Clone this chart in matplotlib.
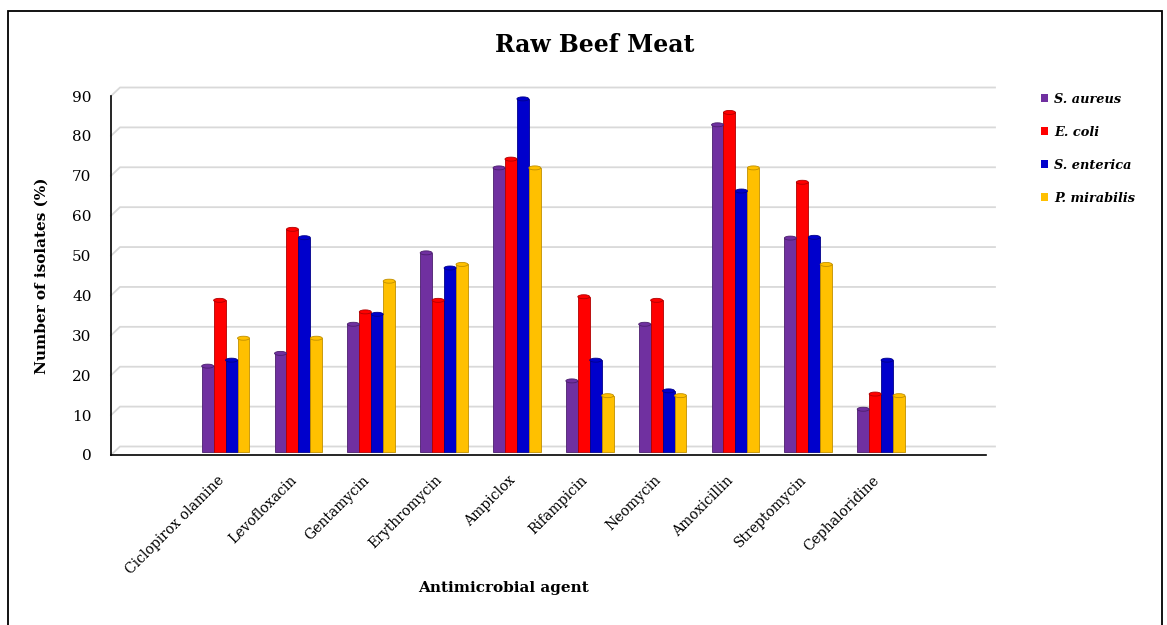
import matplotlib.pyplot as plt
import matplotlib.transforms as mtransforms
from matplotlib.patches import Ellipse, Rectangle, Patch
import numpy as np

# data
agents = ['Ciclopirox olamine', 'Levofloxacin', 'Gentamycin', 'Erythromycin', 'Ampiclox',
          'Rifampicin', 'Neomycin', 'Amoxicillin', 'Streptomycin', 'Cephaloridine']
s_aureus = [21.4, 24.6, 31.9, 49.8, 71.1, 17.7, 31.9, 81.9, 53.5, 10.6]
e_coli = [37.9, 55.7, 35.0, 37.9, 73.3, 38.8, 37.9, 85.0, 67.5, 14.4]
s_enterica = [22.9, 53.6, 34.4, 46.0, 88.4, 22.9, 15.2, 65.3, 53.7, 22.9]
p_mirabilis = [28.4, 28.4, 42.7, 46.9, 71.1, 14.0, 14.0, 71.1, 46.9, 14.0]

series = [('S. aureus', s_aureus, '#7030A0', '#4B1F6E'),
          ('E. coli', e_coli, '#FF0000', '#B00000'),
          ('S. enterica', s_enterica, '#0000CC', '#00008A'),
          ('P. mirabilis', p_mirabilis, '#FFC000', '#C08F00')]

plt.rcParams['font.family'] = 'DejaVu Serif'

W, H = 1167, 625
fig = plt.figure(figsize=(W / 100, H / 100), dpi=100)
ax = fig.add_axes([111 / W, 1 - 455 / H, 875 / W, 359 / H])

ax.set_ylim(0, 90)
ax.set_xlim(-1.573, 10.44)

# back-wall gridlines, pushed up/right a little like the 3D chart
px_per_unit = 359 / 90
dy_units = 8.5 / px_per_unit
dx_ax = 9 / 875
blend = mtransforms.blended_transform_factory(ax.transAxes, ax.transData)
for v in range(0, 91, 10):
    ax.plot([0, dx_ax, 1 + dx_ax], [v, v + dy_units, v + dy_units], color='#d9d9d9',
            lw=1.3, transform=blend, clip_on=False, zorder=0)

# bars sit a bit behind the front axis
bar_tr = ax.transData + mtransforms.ScaledTranslation(0, 3.5 / 100, fig.dpi_scale_trans)
x = np.arange(len(agents))
bw = 0.164
for i, (name, vals, col, dark) in enumerate(series):
    xs = x + (i - 1.5) * bw
    ax.bar(xs, vals, width=bw, color=col, edgecolor=dark, linewidth=0.6,
           transform=bar_tr, zorder=2 + i * 0.01)
    for xi, v in zip(xs, vals):
        ax.add_patch(Ellipse((xi, v), bw, 1.0, facecolor=col, edgecolor=dark,
                             linewidth=0.6, transform=bar_tr, zorder=3))

ax.spines['top'].set_visible(False)
ax.spines['right'].set_visible(False)
ax.spines['left'].set_linewidth(1.2)
ax.spines['bottom'].set_linewidth(1.2)

ax.set_yticks(range(0, 91, 10))
ax.tick_params(axis='y', length=0, pad=14, labelsize=11)
ax.set_xticks(x)
ax.set_xticklabels(agents, rotation=45, ha='right', va='top', rotation_mode='anchor', fontsize=10)
ax.tick_params(axis='x', length=0, pad=13)
shift = mtransforms.ScaledTranslation(-9 / 100, 0, fig.dpi_scale_trans)
for lbl in ax.get_xticklabels():
    lbl.set_transform(lbl.get_transform() + shift)

ax.set_ylabel('Number of isolates (%)', fontsize=11, fontweight='bold')
ax.yaxis.set_label_coords(-0.071, 0.5)
ax.set_xlabel('Antimicrobial agent', fontsize=11, fontweight='bold')
ax.xaxis.set_label_coords(0.449, -0.351)

fig.text(595 / W, 1 - 45 / H, 'Raw Beef Meat', ha='center', va='center',
         fontsize=17, fontweight='bold')

handles = [Patch(facecolor=c, edgecolor='none') for _, _, c, _ in series]
labels = [s[0] for s in series]
fig.legend(handles, labels, loc='upper left', bbox_to_anchor=(1029 / W, 1 - 81 / H),
           frameon=False, handlelength=0.55, handleheight=0.55, handletextpad=0.5,
           labelspacing=1.55, prop={'size': 9.3, 'weight': 'bold', 'style': 'italic'})

# outer frame of the picture
fig.patches.append(Rectangle((8 / W, -0.05), (1162 - 8) / W, 1.05 - 11 / H, fill=False,
                             edgecolor='black', lw=1.3, transform=fig.transFigure))

fig.savefig('out.png', dpi=100)
